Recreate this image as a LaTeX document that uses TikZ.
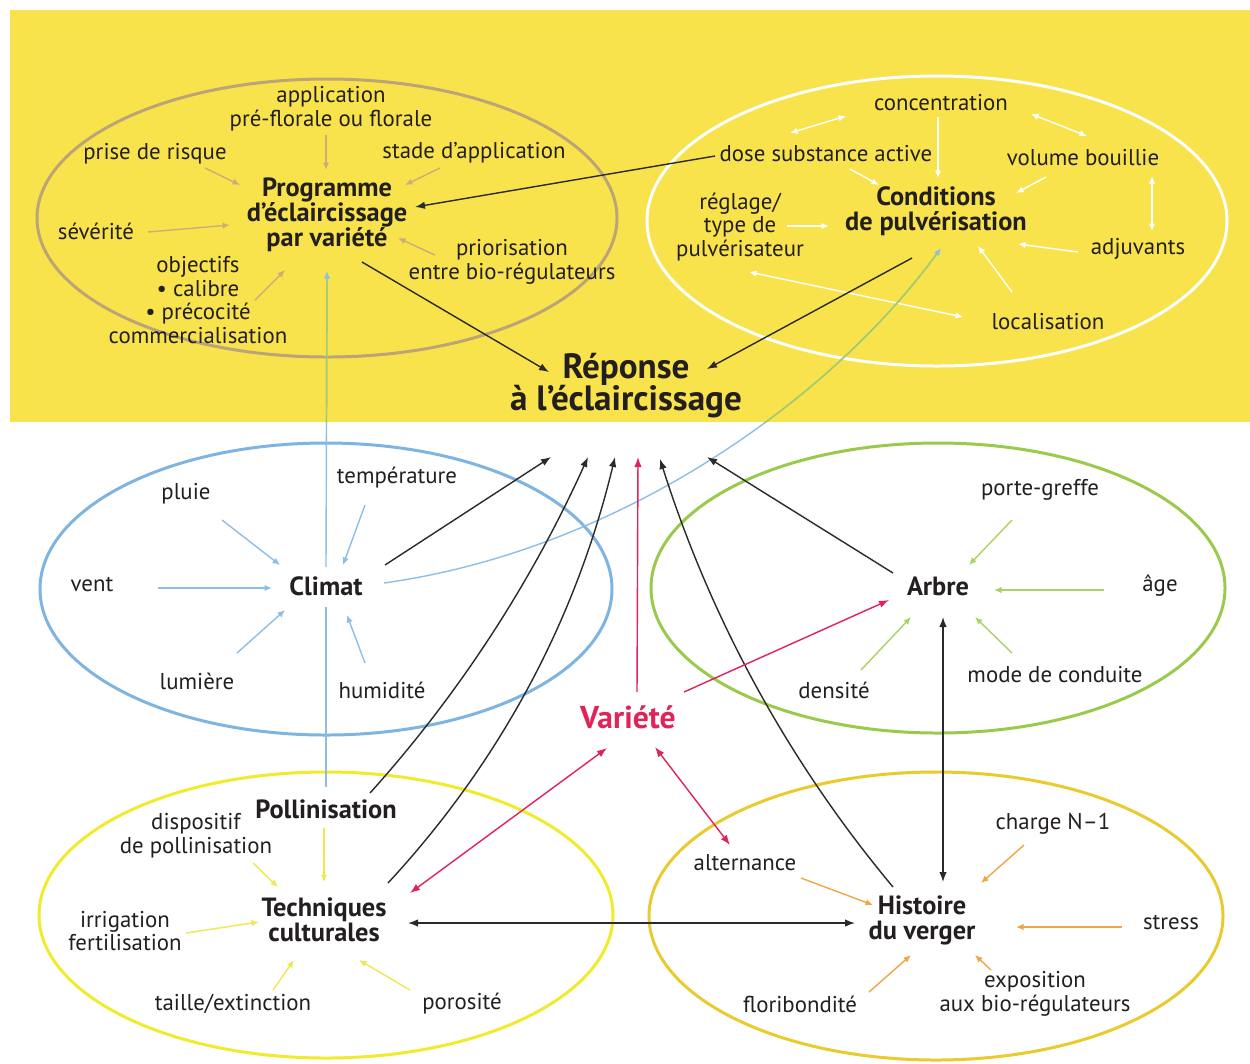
\documentclass[tikz,border=0pt]{standalone}
\usepackage{fontspec}
\setmainfont{PT Sans}
\usetikzlibrary{arrows.meta,calc}
\definecolor{band}{HTML}{F8E34C}
\definecolor{txt}{HTML}{231F20}
\definecolor{tanE}{HTML}{BBA476}
\definecolor{tanA}{HTML}{C8AF78}
\definecolor{blueE}{HTML}{7EB4E2}
\definecolor{blueA}{HTML}{8EBEE6}
\definecolor{blueY}{HTML}{A5CB62}
\definecolor{greenE}{HTML}{9ACA4C}
\definecolor{greenA}{HTML}{AAD264}
\definecolor{yelE}{HTML}{F1EB2E}
\definecolor{yelA}{HTML}{EFE84E}
\definecolor{goldE}{HTML}{E9CB2E}
\definecolor{orA}{HTML}{EFA745}
\definecolor{redV}{HTML}{E0245A}
\definecolor{blk}{HTML}{2A2A2A}
\begin{document}
\begin{tikzpicture}[x=0.02cm,y=-0.02cm,
  lab/.style={font=\fontsize{13}{13.6}\selectfont, align=center, inner sep=0pt, text=txt},
  hub/.style={font=\fontsize{15}{14.2}\selectfont\bfseries, align=center, inner sep=0pt, text=txt},
  big/.style={font=\fontsize{20}{19}\selectfont\bfseries, inner sep=0pt, text=txt},
  ell/.style={line width=1.7pt},
  arr/.style={line width=0.8pt, -{Latex[length=1.5mm,width=1.3mm]}},
  darr/.style={line width=0.8pt, {Latex[length=1.5mm,width=1.3mm]}-{Latex[length=1.5mm,width=1.3mm]}},
  blkarr/.style={line width=0.8pt, draw=blk, -{Latex[length=2mm,width=1.5mm]}},
  blkdarr/.style={line width=0.8pt, draw=blk, {Latex[length=2mm,width=1.5mm]}-{Latex[length=2mm,width=1.5mm]}},
  redarr/.style={line width=0.8pt, draw=redV, -{Latex[length=2mm,width=1.5mm]}},
  reddarr/.style={line width=0.8pt, draw=redV, {Latex[length=2mm,width=1.5mm]}-{Latex[length=2mm,width=1.5mm]}}
]
\useasboundingbox (0,0) rectangle (1250,1063);
\fill[white] (0,0) rectangle (1250,1063);
\fill[band] (10,10) rectangle (1250,422);

% ellipses
\draw[ell, tanE] (327,218) ellipse [x radius=290, y radius=139];
\draw[ell, white] (937,221) ellipse [x radius=290, y radius=145];
\draw[ell, blueE] (326,589) ellipse [x radius=286, y radius=146];
\draw[ell, greenE] (938,588) ellipse [x radius=287, y radius=145];
\draw[ell, yelE] (326,915) ellipse [x radius=287, y radius=143];
\draw[ell, goldE] (936,916) ellipse [x radius=287, y radius=144];

% nodes: top left
\node[lab] (app) at (331,109) {application\\pré-florale ou florale};
\node[lab] (risque) at (155,154) {prise de risque};
\node[lab] (stade) at (474,153) {stade d’application};
\node[hub] (prog) at (327,215) {Programme\\d’éclaircissage\\par variété};
\node[lab] (sev) at (96,231) {sévérité};
\node[lab] (obj) at (198,300) {objectifs\\• calibre\\• précocité\\commercialisation};
\node[lab] (prio) at (512,262) {priorisation\\entre bio-régulateurs};
% top right
\node[lab] (conc) at (941,103) {concentration};
\node[lab] (dose) at (826,154) {dose substance active};
\node[lab] (vol) at (1083,158) {volume bouillie};
\node[lab] (reglage) at (740,227) {réglage/\\type de\\pulvérisateur};
\node[hub] (cond) at (936,211) {Conditions\\de pulvérisation};
\node[lab] (adj) at (1138,249) {adjuvants};
\node[lab] (loc) at (1048,322) {localisation};
% centre
\node[big] (rep1) at (626,369) {Réponse};
\node[big] (rep2) at (626,402) {à l’éclaircissage};
% climat
\node[lab] (temp) at (397,478) {température};
\node[lab] (pluie) at (186,494) {pluie};
\node[lab] (vent) at (92,585) {vent};
\node[hub] (climat) at (326,586) {Climat};
\node[lab] (lum) at (197,681) {lumière};
\node[lab] (hum) at (382,690) {humidité};
% arbre
\node[lab] (pg) at (1040,490) {porte-greffe};
\node[hub] (arbre) at (938,586) {Arbre};
\node[lab] (age) at (1160,586) {âge};
\node[lab] (dens) at (834,690) {densité};
\node[lab] (mode) at (1055,675) {mode de conduite};
% variete
\node[font=\fontsize{18}{18}\selectfont\bfseries, text=redV, inner sep=0pt] (variete) at (628,717) {Variété};
% techniques
\node[hub] (poll) at (326,809) {Pollinisation};
\node[lab] (disp) at (196,836) {dispositif\\de pollinisation};
\node[hub] (tech) at (324,920) {Techniques\\culturales};
\node[lab] (irr) at (125,931) {irrigation\\fertilisation};
\node[lab] (taille) at (233,1004) {taille/extinction};
\node[lab] (poro) at (462,1004) {porosité};
% histoire
\node[lab] (charge) at (1053,824) {charge N–1};
\node[lab] (alt) at (745,863) {alternance};
\node[hub] (hist) at (922,920) {Histoire\\du verger};
\node[lab] (stress) at (1171,923) {stress};
\node[lab] (flor) at (800,1004) {floribondité};
\node[lab] (expo) at (1035,994) {exposition\\aux bio-régulateurs};

% convergence points
\coordinate (t1) at (551,457);
\coordinate (t2) at (588,457);
\coordinate (t3) at (615,457);
\coordinate (t4) at (638,457);
\coordinate (t5) at (660,459);
\coordinate (t6) at (707,457);

% tan arrows
\begin{scope}[draw=tanA]
\draw[arr] ($(app)+(-5,26)$) -- ($(prog)+(-1,-45)$);
\draw[arr] ($(risque)+(50,14)$) -- ($(prog)+(-87,-30)$);
\draw[arr] ($(stade)+(-34,15)$) -- ($(prog)+(78,-30)$);
\draw[arr] ($(sev)+(52,1)$) -- ($(prog)+(-97,10)$);
\draw[arr] ($(obj)+(57,0)$) -- ($(prog)+(-42,55)$);
\draw[arr] ($(prio)+(-77,-7)$) -- ($(prog)+(71,23)$);
\end{scope}

% white arrows
\begin{scope}[draw=white]
\draw[arr] ($(conc)+(-3,14)$) -- ($(cond)+(2,-33)$);
\draw[darr] ($(dose)+(-36,-21)$) -- ($(conc)+(-95,13)$);
\draw[darr] ($(conc)+(90,11)$) -- ($(vol)+(4,-22)$);
\draw[arr] ($(dose)+(24,15)$) -- ($(cond)+(-57,-26)$);
\draw[arr] ($(vol)+(-37,19)$) -- ($(cond)+(80,-18)$);
\draw[darr] ($(vol)+(69,18)$) -- ($(adj)+(14,-18)$);
\draw[arr] ($(reglage)+(47,-1)$) -- ($(cond)+(-107,15)$);
\draw[arr] ($(adj)+(-60,3)$) -- ($(cond)+(82,33)$);
\draw[arr] ($(loc)+(-36,-30)$) -- ($(cond)+(42,35)$);
\draw[darr] ($(reglage)+(9,45)$) -- ($(loc)+(-85,-5)$);
\end{scope}

% blue arrows (climat)
\begin{scope}[draw=blueA]
\draw[arr] ($(pluie)+(36,26)$) -- ($(climat)+(-46,-21)$);
\draw[arr] ($(temp)+(-32,27)$) -- ($(climat)+(17,-21)$);
\draw[arr] ($(vent)+(66,3)$) -- ($(climat)+(-54,2)$);
\draw[arr] ($(lum)+(40,-28)$) -- ($(climat)+(-41,24)$);
\draw[arr] ($(hum)+(-17,-27)$) -- ($(climat)+(21,29)$);
\end{scope}

% green arrows (arbre)
\begin{scope}[draw=greenA]
\draw[arr] ($(pg)+(-28,30)$) -- ($(arbre)+(31,-21)$);
\draw[arr] ($(age)+(-56,4)$) -- ($(arbre)+(56,4)$);
\draw[arr] ($(dens)+(27,-20)$) -- ($(arbre)+(-27,31)$);
\draw[arr] ($(mode)+(-43,-22)$) -- ($(arbre)+(37,31)$);
\end{scope}

% yellow arrows (techniques)
\begin{scope}[draw=yelA]
\draw[arr] ($(poll)+(-2,19)$) -- ($(tech)+(0,-38)$);
\draw[arr] ($(disp)+(57,27)$) -- ($(tech)+(-46,-33)$);
\draw[arr] ($(irr)+(61,2)$) -- ($(tech)+(-65,2)$);
\draw[arr] ($(taille)+(40,-14)$) -- ($(tech)+(-30,40)$);
\draw[arr] ($(poro)+(-52,-14)$) -- ($(tech)+(35,40)$);
\end{scope}

% orange arrows (histoire)
\begin{scope}[draw=orA]
\draw[arr] ($(charge)+(-29,21)$) -- ($(hist)+(59,-37)$);
\draw[arr] ($(alt)+(56,15)$) -- ($(hist)+(-49,-15)$);
\draw[arr] ($(stress)+(-49,4)$) -- ($(hist)+(94,7)$);
\draw[arr] ($(flor)+(69,-12)$) -- ($(hist)+(-11,35)$);
\draw[arr] ($(expo)+(-44,-24)$) -- ($(hist)+(53,35)$);
\end{scope}

% blue long connectors (greenish over the yellow band)
\draw[line width=0.8pt, blueA] ($(poll)+(0,-22)$) -- ($(climat)+(0,21)$);
\draw[arr, draw=blueA] ($(climat)+(0,-19)$) -- ($(prog)+(0,56)$);
\draw[arr, draw=blueA] ($(climat)+(58,-3)$) .. controls (620,550) and (830,400) .. ($(cond)+(5,37)$);
\begin{scope}
\clip (0,10) rectangle (1250,422);
\draw[line width=0.8pt, blueY, shorten >=1.5mm] ($(climat)+(0,-19)$) -- ($(prog)+(0,56)$);
\draw[line width=0.8pt, blueY, shorten >=1.5mm] ($(climat)+(58,-3)$) .. controls (620,550) and (830,400) .. ($(cond)+(5,37)$);
\end{scope}

% black connectors
\draw[blkarr] ($(dose)+(-111,2)$) -- ($(prog)+(88,-8)$);
\draw[blkarr] ($(prog)+(35,47)$) -- ($(rep1)+(-77,3)$);
\draw[blkarr] ($(cond)+(-24,47)$) -- ($(rep1)+(81,0)$);
\draw[blkarr] ($(climat)+(59,-21)$) -- (t1);
\draw[blkarr] ($(poll)+(44,-16)$) .. controls (460,693) and (532,581) .. (t2);
\draw[blkarr] ($(tech)+(64,-37)$) .. controls (501,761) and (576,619) .. (t3);
\draw[blkarr] ($(hist)+(-29,-33)$) .. controls (787,760) and (710,617) .. (t5);
\draw[blkarr] ($(arbre)+(-45,-13)$) -- (t6);
\draw[blkdarr] ($(arbre)+(5,31)$) -- ($(hist)+(21,-38)$);
\draw[blkdarr] ($(tech)+(84,3)$) -- ($(hist)+(-67,3)$);

% red connectors
\draw[redarr] ($(variete)+(9,-25)$) -- (t4);
\draw[redarr] ($(variete)+(56,-25)$) -- ($(arbre)+(-49,14)$);
\draw[reddarr] ($(variete)+(-21,31)$) -- ($(tech)+(86,-27)$);
\draw[reddarr] ($(variete)+(27,30)$) -- ($(alt)+(-15,-18)$);
\end{tikzpicture}
\end{document}
